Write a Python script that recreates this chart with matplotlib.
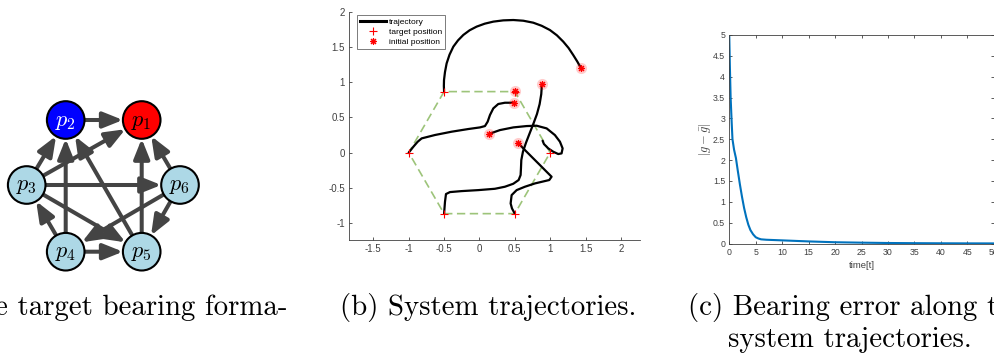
import numpy as np
import matplotlib
matplotlib.use('Agg')
import matplotlib.pyplot as plt
from matplotlib.patches import Circle, FancyArrowPatch
from matplotlib.lines import Line2D

plt.rcParams['mathtext.fontset'] = 'cm'
plt.rcParams['font.family'] = ['Liberation Sans', 'DejaVu Sans']

# --- (a) target bearing formation graph ---
node_ids = [1, 2, 3, 4, 5, 6]
node_colors = ['red', 'blue', 'lightblue', 'lightblue', 'lightblue', 'lightblue']
label_colors = ['black', 'white', 'black', 'black', 'black', 'black']
edges = [(2, 1), (3, 2), (3, 1), (3, 6), (3, 5), (4, 3), (4, 2),
         (4, 5), (5, 2), (5, 1), (6, 1), (6, 5), (6, 4)]

# --- (b) agent trajectories ---
target_x = [1.0, 0.5, -0.5, -1.0, -0.5, 0.5]
target_y = [0.0, 0.866, 0.866, 0.0, -0.866, -0.866]
initial_x = [1.435, 0.883, 0.493, 0.139, 0.544, 0.502]
initial_y = [1.200, 0.973, 0.708, 0.267, 0.141, 0.879]

traj1_x = [1.435, 1.385, 1.326, 1.26, 1.185, 1.095, 0.996, 0.88, 0.761, 0.62, 0.479,
           0.337, 0.196, 0.075, -0.040, -0.138, -0.228, -0.303, -0.369, -0.423,
           -0.464, -0.487, -0.501, -0.503, -0.5]
traj1_y = [1.200, 1.29, 1.385, 1.485, 1.575, 1.665, 1.740, 1.80, 1.844, 1.872, 1.882,
           1.877, 1.859, 1.83, 1.788, 1.737, 1.670, 1.593, 1.504, 1.39,
           1.266, 1.145, 1.030, 0.945, 0.866]
traj2_x = [0.883, 0.874, 0.851, 0.813, 0.761, 0.709, 0.658, 0.615, 0.592, 0.587, 0.582,
           0.554, 0.478, 0.360, 0.219, -0.016, -0.252, -0.417, -0.473, -0.487, -0.5]
traj2_y = [0.973, 0.831, 0.689, 0.547, 0.405, 0.272, 0.140, 0.013, -0.105, -0.224, -0.318,
           -0.389, -0.442, -0.484, -0.513, -0.532, -0.546, -0.560, -0.588, -0.697, -0.866]
traj3_x = [0.493, 0.360, 0.266, 0.196, 0.149, 0.116, 0.078, 0.008, -0.157, -0.393,
           -0.629, -0.817, -0.873, -0.934, -1.0]
traj3_y = [0.708, 0.708, 0.690, 0.628, 0.534, 0.439, 0.377, 0.358, 0.335, 0.297,
           0.250, 0.202, 0.155, 0.084, 0.0]
traj4_x = [0.139, 0.290, 0.479, 0.667, 0.808, 0.950, 1.067, 1.138, 1.176, 1.161,
           1.114, 1.043, 0.973, 0.912, 0.893]
traj4_y = [0.267, 0.320, 0.358, 0.377, 0.382, 0.344, 0.249, 0.155, 0.060, -0.011,
           -0.020, 0.013, 0.060, 0.122, 0.169]
traj5_x = [0.544, 0.620, 0.737, 0.855, 0.949, 1.020, 0.987, 0.785, 0.643, 0.526,
           0.455, 0.441, 0.460, 0.5]
traj5_y = [0.141, 0.060, -0.058, -0.176, -0.271, -0.342, -0.389, -0.437, -0.484, -0.532,
           -0.603, -0.721, -0.792, -0.866]

b_xticks = [-1.5, -1, -0.5, 0, 0.5, 1, 1.5, 2]
b_xticklabels = ['-1.5', '-1', '-0.5', '0', '0.5', '1', '1.5', '2']
b_yticks = [-1, -0.5, 0, 0.5, 1, 1.5, 2]
b_yticklabels = ['-1', '-0.5', '0', '0.5', '1', '1.5', '2']

# --- (c) bearing error over time ---
time = [0, 0.1, 0.25, 0.45, 0.6, 0.9, 1.25, 1.6, 2.0, 2.4, 2.8, 3.2, 3.6, 4.0, 4.5,
        5.0, 5.5, 6.0, 6.5, 7, 8, 10, 12, 15, 20, 25, 30, 35, 40, 45, 50]
error = [4.95, 4.3, 3.5, 2.9, 2.5, 2.25, 2.05, 1.75, 1.42, 1.12, 0.85, 0.63, 0.45, 0.32,
         0.22, 0.15, 0.12, 0.10, 0.095, 0.09, 0.085, 0.075, 0.065, 0.05, 0.03, 0.02,
         0.012, 0.008, 0.005, 0.003, 0.002]
c_xticks = [0, 5, 10, 15, 20, 25, 30, 35, 40, 45, 50]
c_yticks = [0, 0.5, 1, 1.5, 2, 2.5, 3, 3.5, 4, 4.5, 5]
c_yticklabels = ['0', '0.5', '1', '1.5', '2', '2.5', '3', '3.5', '4', '4.5', '5']

W, H = 995, 361
fig = plt.figure(figsize=(W / 100, H / 100), dpi=100)

# overlay in pixel units for the graph and the captions
ax_a = fig.add_axes([0, 0, 1, 1])
ax_a.set_xlim(0, W)
ax_a.set_ylim(H, 0)
ax_a.set_axis_off()

node_xy = {1: (141.7, 120), 2: (65.7, 120), 3: (26.7, 185),
           4: (65.7, 251.7), 5: (141.7, 251.7), 6: (180, 185)}
circles = {}
for nid, fc, lc in zip(node_ids, node_colors, label_colors):
    c = Circle(node_xy[nid], 18.8, facecolor=fc, edgecolor='black', lw=1.5, zorder=3)
    ax_a.add_patch(c)
    circles[nid] = c
    ax_a.text(node_xy[nid][0], node_xy[nid][1] + 1, r'$p_{%d}$' % nid, color=lc,
              fontsize=16, ha='center', va='center', zorder=4)

for src, dst in edges:
    arrow = FancyArrowPatch(node_xy[src], node_xy[dst], patchA=circles[src],
                            patchB=circles[dst], shrinkA=0, shrinkB=0.5,
                            arrowstyle='-|>,head_length=1.2,head_width=0.48',
                            mutation_scale=10, lw=2.9, color='#444444', zorder=2)
    ax_a.add_patch(arrow)

# captions
cap = dict(fontfamily='cmr10', fontsize=20.8, va='baseline')
ax_a.text(288, 315, '(a) The target bearing forma-', ha='right', **cap)
ax_a.text(340, 315, '(b) System trajectories.', ha='left', **cap)
ax_a.text(688, 315, '(c) Bearing error along the', ha='left', **cap)
ax_a.text(728, 347, 'system trajectories.', ha='left', **cap)

axis_gray = '#404040'

# --- panel (b) ---
ax_b = fig.add_axes([349.3 / W, 1 - 240 / H, 290.7 / W, 228.3 / H])
ax_b.plot(target_x + target_x[:1], target_y + target_y[:1], color='#9dc47a',
          lw=1.2, dashes=(5, 2.7), zorder=1)
for tx, ty in [(traj1_x, traj1_y), (traj2_x, traj2_y), (traj3_x, traj3_y),
               (traj4_x, traj4_y), (traj5_x, traj5_y)]:
    ax_b.plot(tx, ty, color='black', lw=1.6, solid_joinstyle='round',
              solid_capstyle='round', zorder=2)
ax_b.plot(initial_x, initial_y, 'o', color='red', ms=8, alpha=0.2, mew=0, zorder=3)
ax_b.plot(initial_x, initial_y, ls='none', marker=(8, 2, 0), color='red', ms=5,
          mew=0.8, zorder=4)
ax_b.plot(target_x, target_y, '+', color='red', ms=6, mew=0.8, zorder=4)

ax_b.set_xlim(-1.84, 2.27)
ax_b.set_ylim(-1.24, 2.0)
ax_b.set_xticks(b_xticks, b_xticklabels)
ax_b.set_yticks(b_yticks, b_yticklabels)
ax_b.spines['top'].set_visible(False)
ax_b.spines['right'].set_visible(False)
for s in ['left', 'bottom']:
    ax_b.spines[s].set_color(axis_gray)
    ax_b.spines[s].set_linewidth(0.6)
ax_b.tick_params(direction='in', length=2.5, width=0.6, colors=axis_gray,
                 labelsize=7, pad=3)

handles = [Line2D([], [], color='black', lw=2.2),
           Line2D([], [], ls='none', marker='+', color='red', ms=6, mew=0.8),
           Line2D([], [], ls='none', marker=(8, 2, 0), color='red', ms=5, mew=0.8)]
leg = ax_b.legend(handles, ['trajectory', 'target position', 'initial position'],
                  loc='upper left', bbox_to_anchor=(357.3 / W, 1 - 15 / H),
                  bbox_transform=fig.transFigure, fontsize=6, frameon=True,
                  fancybox=False, handlelength=3.1, handletextpad=0.3,
                  labelspacing=0.25, borderpad=0.35, borderaxespad=0)
leg.get_frame().set_edgecolor(axis_gray)
leg.get_frame().set_linewidth(0.6)

# --- panel (c) ---
ax_c = fig.add_axes([729.3 / W, 1 - 243.5 / H, 264.5 / W, 208.5 / H])
ax_c.plot(time, error, color='#0072BD', lw=1.5, solid_joinstyle='round')
ax_c.set_xlim(0, 50)
ax_c.set_ylim(0, 5)
ax_c.set_xticks(c_xticks)
ax_c.set_yticks(c_yticks, c_yticklabels)
for s in ax_c.spines.values():
    s.set_color(axis_gray)
    s.set_linewidth(0.6)
ax_c.tick_params(direction='in', length=2.5, width=0.6, colors=axis_gray,
                 labelsize=6.3, pad=3, top=True, right=True)
ax_c.set_xlabel('time[t]', fontsize=6.8, color=axis_gray, labelpad=3)
ax_c.set_ylabel(r'$|g-\bar{g}|$', fontsize=9, color=axis_gray, labelpad=0)

fig.savefig('out.png', dpi=100)
